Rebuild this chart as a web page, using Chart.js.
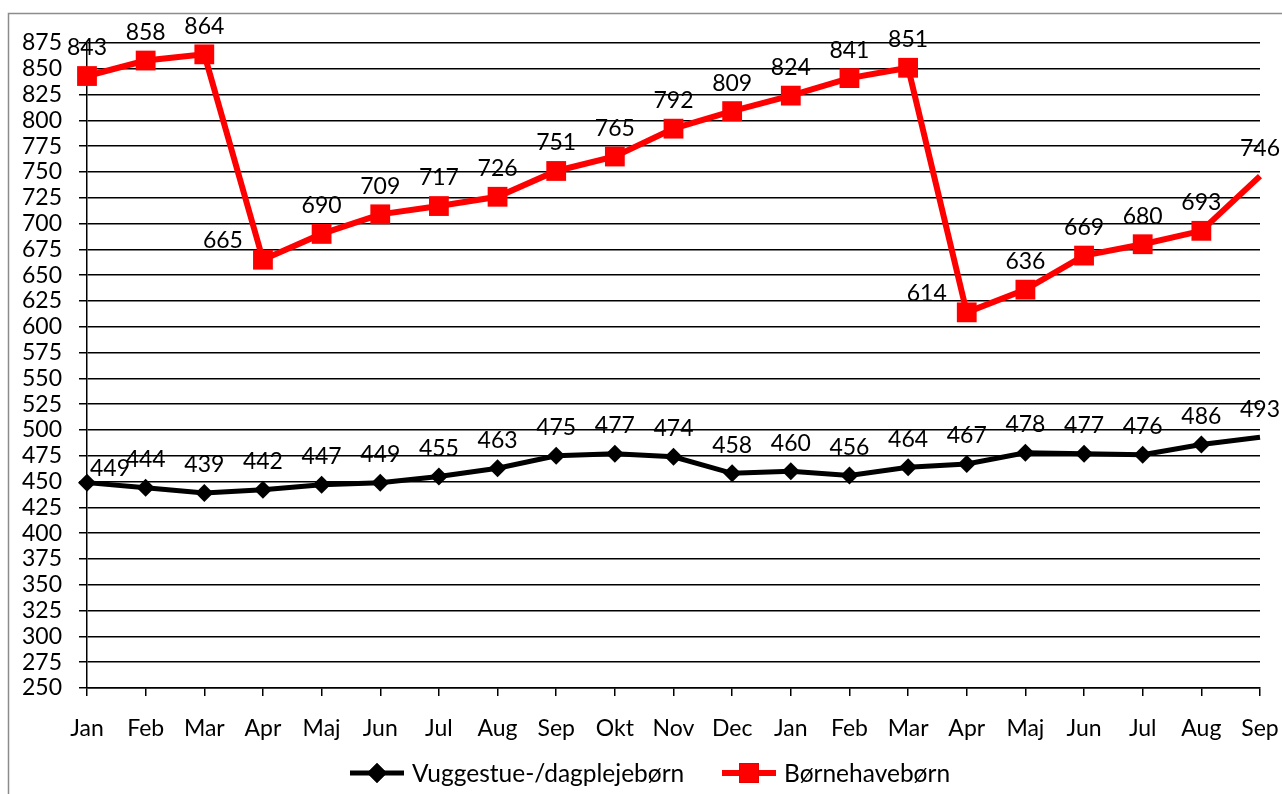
<!DOCTYPE html>
<html lang="da">

<head>
    <meta charset="UTF-8">
    <title>Vuggestue-/dagplejebørn og børnehavebørn</title>
    <script src="https://cdn.jsdelivr.net/npm/chart.js"></script>
    <style>
        html, body { margin: 0; padding: 0; background: #fff; overflow: hidden; }
        canvas { display: block; }
    </style>
</head>

<body>
    <canvas id="myChart" width="1282" height="794"></canvas>
    <script>
        const months = ['Jan', 'Feb', 'Mar', 'Apr', 'Maj', 'Jun', 'Jul', 'Aug', 'Sep', 'Okt', 'Nov', 'Dec',
            'Jan', 'Feb', 'Mar', 'Apr', 'Maj', 'Jun', 'Jul', 'Aug', 'Sep'];
        const vuggestue = [449, 444, 439, 442, 447, 449, 455, 463, 475, 477, 474, 458,
            460, 456, 464, 467, 478, 477, 476, 486, 493];
        const boernehave = [843, 858, 864, 665, 690, 709, 717, 726, 751, 765, 792, 809,
            824, 841, 851, 614, 636, 669, 680, 693, 746];
        const yMin = 250, yMax = 875, yStep = 25;

        const FONT = 'Lato, "Open Sans", sans-serif';

        // which labels sit beside the point instead of above it
        const labelSide = {
            0: { 0: 'right' },
            1: { 3: 'left', 15: 'left' }
        };

        // no marker on the last point of each line
        const radii = (r) => months.map((m, i) => i === months.length - 1 ? 0 : r);

        const valueLabels = {
            id: 'valueLabels',
            afterDatasetsDraw(chart) {
                const ctx = chart.ctx;
                ctx.save();
                ctx.font = '23px ' + FONT;
                ctx.fillStyle = '#000';
                ctx.textBaseline = 'middle';
                chart.data.datasets.forEach((ds, i) => {
                    chart.getDatasetMeta(i).data.forEach((pt, j) => {
                        const side = (labelSide[i] || {})[j];
                        if (side === 'left') {
                            ctx.textAlign = 'right';
                            ctx.fillText(ds.data[j], pt.x - 20, pt.y - 19);
                        } else if (side === 'right') {
                            ctx.textAlign = 'left';
                            ctx.fillText(ds.data[j], pt.x + 3, pt.y - 14);
                        } else {
                            ctx.textAlign = 'center';
                            ctx.fillText(ds.data[j], pt.x, pt.y - 28);
                        }
                    });
                });
                ctx.restore();
            }
        };

        // frame + legend drawn by hand (line with marker, like the original)
        const frameAndLegend = {
            id: 'frameAndLegend',
            beforeDraw(chart) {
                const ctx = chart.ctx;
                ctx.save();
                ctx.strokeStyle = '#8c8c8c';
                ctx.lineWidth = 1.5;
                ctx.beginPath();
                ctx.moveTo(8.5, 794);
                ctx.lineTo(8.5, 13.5);
                ctx.lineTo(1282, 13.5);
                ctx.stroke();
                ctx.restore();
            },
            afterDraw(chart) {
                const ctx = chart.ctx;
                const y = 773;
                ctx.save();
                ctx.font = '24.5px ' + FONT;
                ctx.textBaseline = 'middle';
                ctx.textAlign = 'left';
                chart.data.datasets.forEach((ds) => {
                    const x0 = ds.legendX;
                    ctx.strokeStyle = ds.borderColor;
                    ctx.lineWidth = ds.borderWidth;
                    ctx.beginPath();
                    ctx.moveTo(x0, y);
                    ctx.lineTo(x0 + 54, y);
                    ctx.stroke();
                    Chart.helpers.drawPoint(ctx, {
                        pointStyle: ds.pointStyle,
                        radius: ds.legendRadius,
                        borderWidth: 0
                    }, x0 + 27, y);
                    ctx.fillStyle = ds.pointBackgroundColor;
                    ctx.fill();
                    ctx.fillStyle = '#000';
                    ctx.fillText(ds.label, x0 + 62, y + 1);
                });
                ctx.restore();
            }
        };

        const data = {
            labels: months,
            datasets: [{
                label: 'Vuggestue-/dagplejebørn',
                data: vuggestue,
                borderColor: '#000',
                backgroundColor: '#000',
                pointBackgroundColor: '#000',
                pointBorderColor: '#000',
                borderWidth: 5,
                pointStyle: 'rectRot',
                pointRadius: radii(9),
                pointBorderWidth: 0,
                legendX: 350,
                legendRadius: 10,
                tension: 0
            }, {
                label: 'Børnehavebørn',
                data: boernehave,
                borderColor: '#ff0000',
                backgroundColor: '#ff0000',
                pointBackgroundColor: '#ff0000',
                pointBorderColor: '#ff0000',
                borderWidth: 6,
                pointStyle: 'rect',
                pointRadius: radii(14),
                pointBorderWidth: 0,
                legendX: 722,
                legendRadius: 14,
                tension: 0
            }]
        };

        const config = {
            type: 'line',
            data: data,
            options: {
                responsive: false,
                animation: false,
                events: [],
                layout: {
                    padding: { top: 43, right: 22, left: 0, bottom: 0 }
                },
                plugins: {
                    legend: { display: false },
                    tooltip: { enabled: false }
                },
                scales: {
                    x: {
                        offset: false,
                        afterFit: (scale) => {
                            scale.height = 106;
                            scale.paddingLeft = 0;
                            scale.paddingRight = 0;
                        },
                        border: { color: '#000', width: 1.5 },
                        grid: {
                            drawOnChartArea: false,
                            drawTicks: true,
                            tickLength: 8,
                            color: '#000',
                            lineWidth: 1.5
                        },
                        ticks: {
                            color: '#000',
                            font: { family: FONT, size: 23 },
                            padding: 19,
                            maxRotation: 0,
                            autoSkip: false
                        }
                    },
                    y: {
                        min: yMin,
                        max: yMax,
                        afterFit: (scale) => {
                            scale.width = 87;
                            scale.paddingTop = 0;
                            scale.paddingBottom = 0;
                        },
                        border: { color: '#000', width: 1.5 },
                        grid: {
                            color: '#000',
                            lineWidth: 1.5,
                            tickLength: 8
                        },
                        ticks: {
                            stepSize: yStep,
                            autoSkip: false,
                            color: '#000',
                            font: { family: FONT, size: 23 },
                            padding: 17
                        }
                    }
                }
            },
            plugins: [valueLabels, frameAndLegend]
        };

        const myChart = new Chart(document.getElementById('myChart'), config);
    </script>
</body>

</html>
